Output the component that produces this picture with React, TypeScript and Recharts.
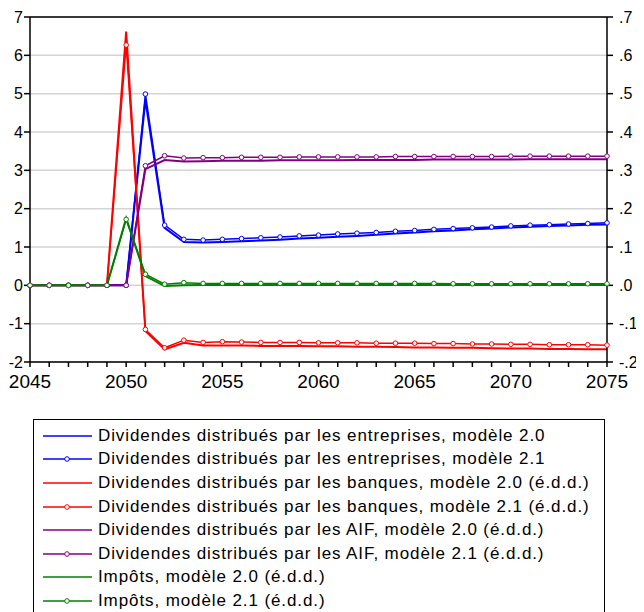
import { LineChart, Line, XAxis, YAxis, CartesianGrid, ReferenceLine } from "recharts";

const years = [
  2045, 2046, 2047, 2048, 2049, 2050, 2051, 2052, 2053, 2054, 2055, 2056, 2057, 2058, 2059, 2060,
  2061, 2062, 2063, 2064, 2065, 2066, 2067, 2068, 2069, 2070, 2071, 2072, 2073, 2074, 2075,
];

// left scale
const entreprises20 = [
  0, 0, 0, 0, 0, 0, 4.83, 1.5, 1.13, 1.12, 1.13, 1.15, 1.17, 1.19, 1.22, 1.24,
  1.27, 1.29, 1.32, 1.35, 1.38, 1.41, 1.43, 1.46, 1.48, 1.51, 1.53, 1.55, 1.56, 1.58, 1.59,
];
const entreprises21 = [
  0, 0, 0, 0, 0, 0, 4.99, 1.57, 1.2, 1.18, 1.2, 1.22, 1.24, 1.26, 1.29, 1.31,
  1.34, 1.36, 1.38, 1.41, 1.43, 1.46, 1.48, 1.5, 1.52, 1.55, 1.57, 1.58, 1.6, 1.61, 1.63,
];

// right scale (é.d.d.)
const banques20 = [
  0, 0, 0, 0, 0, 0.662, -0.119, -0.167, -0.15, -0.157, -0.157, -0.157, -0.158, -0.158, -0.158, -0.159,
  -0.159, -0.16, -0.16, -0.161, -0.162, -0.162, -0.163, -0.163, -0.164, -0.165, -0.165, -0.166, -0.166, -0.167, -0.167,
];
const banques21 = [
  0, 0, 0, 0, 0, 0.627, -0.115, -0.163, -0.143, -0.149, -0.147, -0.148, -0.149, -0.149, -0.149, -0.15,
  -0.15, -0.15, -0.151, -0.151, -0.151, -0.152, -0.152, -0.153, -0.153, -0.154, -0.154, -0.155, -0.155, -0.155, -0.156,
];
const aif20 = [
  0, 0, 0, 0, 0, 0, 0.303, 0.327, 0.323, 0.324, 0.325, 0.325, 0.325, 0.326, 0.326, 0.326,
  0.326, 0.327, 0.327, 0.327, 0.327, 0.328, 0.328, 0.328, 0.328, 0.328, 0.329, 0.329, 0.329, 0.329, 0.329,
];
const aif21 = [
  0, 0, 0, 0, 0, 0, 0.312, 0.338, 0.332, 0.333, 0.333, 0.334, 0.334, 0.334, 0.335, 0.335,
  0.335, 0.335, 0.335, 0.336, 0.336, 0.336, 0.336, 0.336, 0.336, 0.337, 0.337, 0.337, 0.337, 0.337, 0.337,
];
const impots20 = [
  0, 0, 0, 0, 0, 0.175, 0.024, -0.002, 0.0, 0.001, 0.001, 0.001, 0.001, 0.001, 0.001, 0.001,
  0.001, 0.001, 0.001, 0.001, 0.001, 0.001, 0.001, 0.001, 0.001, 0.001, 0.001, 0.001, 0.001, 0.001, 0.001,
];
const impots21 = [
  0, 0, 0, 0, 0, 0.172, 0.029, 0.003, 0.007, 0.005, 0.005, 0.005, 0.005, 0.005, 0.005, 0.005,
  0.005, 0.005, 0.005, 0.005, 0.005, 0.005, 0.004, 0.004, 0.004, 0.004, 0.004, 0.004, 0.004, 0.004, 0.004,
];

const leftTicks = [-2, -1, 0, 1, 2, 3, 4, 5, 6, 7];
const rightTicks = [-0.2, -0.1, 0, 0.1, 0.2, 0.3, 0.4, 0.5, 0.6, 0.7];

const series = [
  { key: "e20", label: "Dividendes distribués par les entreprises, modèle 2.0", color: "#0000ff", axis: "left", dot: false },
  { key: "e21", label: "Dividendes distribués par les entreprises, modèle 2.1", color: "#0000ff", axis: "left", dot: true },
  { key: "b20", label: "Dividendes distribués par les banques, modèle 2.0 (é.d.d.)", color: "#ff0000", axis: "right", dot: false },
  { key: "b21", label: "Dividendes distribués par les banques, modèle 2.1 (é.d.d.)", color: "#ff0000", axis: "right", dot: true },
  { key: "a20", label: "Dividendes distribués par les AIF, modèle 2.0 (é.d.d.)", color: "#800080", axis: "right", dot: false },
  { key: "a21", label: "Dividendes distribués par les AIF, modèle 2.1 (é.d.d.)", color: "#800080", axis: "right", dot: true },
  { key: "i20", label: "Impôts, modèle 2.0 (é.d.d.)", color: "#008000", axis: "right", dot: false },
  { key: "i21", label: "Impôts, modèle 2.1 (é.d.d.)", color: "#008000", axis: "right", dot: true },
];

const data = years.map((year, i) => ({
  year,
  e20: entreprises20[i],
  e21: entreprises21[i],
  b20: banques20[i],
  b21: banques21[i],
  a20: aif20[i],
  a21: aif21[i],
  i20: impots20[i],
  i21: impots21[i],
}));

const font = "'Liberation Sans', Arial, sans-serif";
const tickStyle = { fontSize: 16, fill: "#000", fontFamily: font };
const xTickStyle = { fontSize: 19, fill: "#000", fontFamily: font };
const axisLine = { stroke: "#000", strokeWidth: 1.5 };

const fmtRight = (v: number) => v.toFixed(1).replace("0.", ".");

// plain <text> so negative labels are not squeezed by the narrow axis width
const LeftTick = (props: any) => {
  const { x, y, payload } = props;
  return (
    <text x={x} y={y} dy="0.355em" textAnchor="end" fontSize={16} fill="#000" fontFamily={font}>
      {String(payload.value)}
    </text>
  );
};

export default function App() {
  return (
    <div style={{ position: "relative", width: 636, height: 604, fontFamily: font }}>
      <LineChart
        width={636}
        height={392}
        data={data}
        margin={{ top: 9, right: 0, left: 0, bottom: 0 }}
      >
        <CartesianGrid vertical={false} stroke="#d4d4d4" strokeWidth={1.5} yAxisId="left" />
        <XAxis
          dataKey="year"
          type="number"
          domain={[2045, 2075]}
          ticks={years}
          interval={0}
          tickFormatter={(v) => (v % 5 === 0 ? String(v) : "")}
          height={38}
          tickSize={5}
          tickMargin={8}
          tick={xTickStyle}
          axisLine={axisLine}
          tickLine={axisLine}
        />
        <YAxis
          yAxisId="left"
          domain={[-2, 7]}
          ticks={leftTicks}
          interval={0}
          width={22}
          tickSize={6}
          tickMargin={1}
          tick={<LeftTick />}
          axisLine={axisLine}
          tickLine={axisLine}
        />
        <YAxis
          yAxisId="right"
          orientation="right"
          domain={[-0.2, 0.7]}
          ticks={rightTicks}
          interval={0}
          width={37}
          tickSize={6}
          tickMargin={6}
          tickFormatter={fmtRight}
          tick={tickStyle}
          axisLine={axisLine}
          tickLine={axisLine}
        />
        <ReferenceLine yAxisId="left" y={7} stroke="#000" strokeWidth={1.5} />
        {series.map((s) => (
          <Line
            key={s.key}
            yAxisId={s.axis}
            dataKey={s.key}
            type="linear"
            stroke={s.color}
            strokeWidth={s.dot ? 1.5 : 2}
            dot={s.dot ? { r: 2.3, fill: "#fff", stroke: s.color, strokeWidth: 1 } : false}
            activeDot={false}
            isAnimationActive={false}
          />
        ))}
      </LineChart>
      <div
        style={{
          position: "absolute",
          left: 25,
          top: 411,
          width: 572,
          height: 200,
          border: "1px solid #000",
          boxSizing: "border-box",
          paddingTop: 4,
        }}
      >
        {series.map((s) => (
          <div key={s.key} style={{ display: "flex", alignItems: "center", height: 23.6 }}>
            <svg width={56} height={12} style={{ marginLeft: 8, flexShrink: 0 }}>
              <line x1={1} y1={6} x2={50} y2={6} stroke={s.color} strokeWidth={1.5} />
              {s.dot && <circle cx={25} cy={6} r={2.3} fill="#fff" stroke={s.color} strokeWidth={1} />}
            </svg>
            <span style={{ fontSize: 17, letterSpacing: 0.9, color: "#000", whiteSpace: "nowrap" }}>
              {s.label}
            </span>
          </div>
        ))}
      </div>
    </div>
  );
}
